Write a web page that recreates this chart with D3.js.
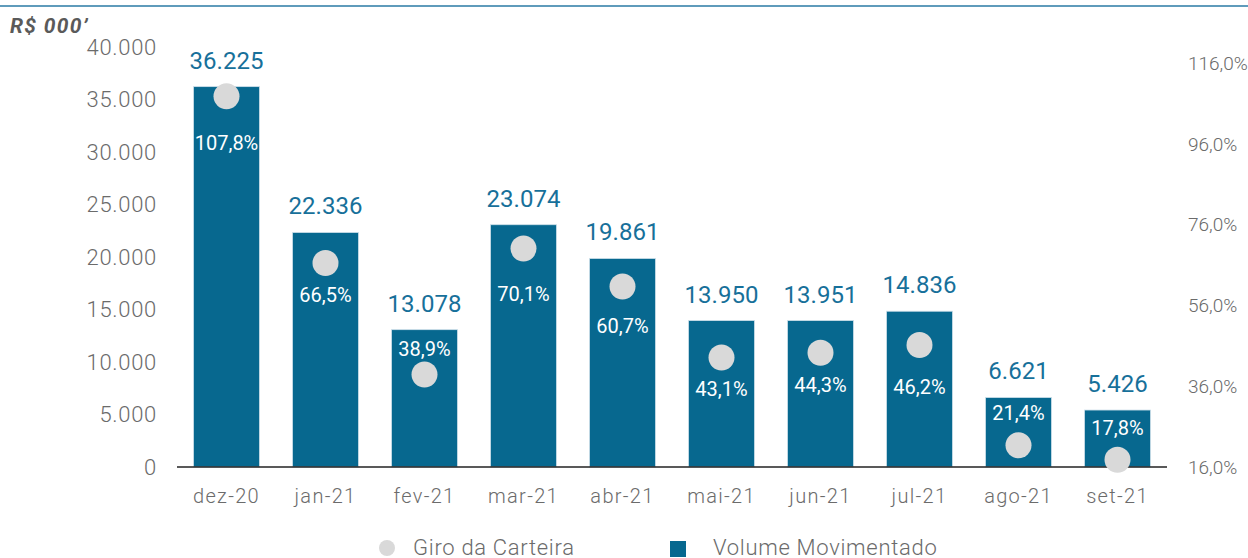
<!DOCTYPE html>
<html><head><meta charset="utf-8">
<script src="https://cdn.jsdelivr.net/npm/d3@7"></script>
<style>body{margin:0;background:#fff}svg{display:block}</style>
</head><body>
<svg id="c" width="1248" height="558"></svg>
<script>
const categories = ["dez-20","jan-21","fev-21","mar-21","abr-21","mai-21","jun-21","jul-21","ago-21","set-21"];
const volume = [36225,22336,13078,23074,19861,13950,13951,14836,6621,5426];
const giro = [107.8,66.5,38.9,70.1,60.7,43.1,44.3,46.2,21.4,17.8];
const leftTicks = [0,5000,10000,15000,20000,25000,30000,35000,40000];
const rightTicks = [16,36,56,76,96,116];
const seriesNames = ["Giro da Carteira","Volume Movimentado"];
// layout: vertical offset of percentage labels relative to the dot
const pctLabelDy = [47,32,-26,45,40,31,32,42,-32,-32];

const svg = d3.select("#c");
const barColor = "#07688f", dotColor = "#d9d9d9", textGray = "#6b6b6b", valColor = "#17709a";
const font = "Roboto, 'Open Sans', sans-serif";
const nf = v => d3.format(",")(v).replace(/,/g,".");

svg.append("line").attr("x1",0).attr("x2",1248).attr("y1",6).attr("y2",6)
  .attr("stroke","#2a7aa5").attr("stroke-width",1.5);
svg.append("text").attr("x",10).attr("y",33).text("R$ 000’")
  .attr("font-family",font).attr("font-size",21).attr("font-weight",700)
  .attr("font-style","italic").attr("letter-spacing",1.3).attr("fill","#5a5a5a");

const x = d3.scaleBand().domain(categories).range([177,1167]).paddingInner(0.333).paddingOuter(0.1665);
const y = d3.scaleLinear().domain([0,40000]).range([467,47]);
const y2 = d3.scaleLinear().domain([16,120]).range([467,47]);

// left axis
const la = svg.append("g").attr("transform","translate(163,0)")
  .call(d3.axisLeft(y).tickValues(leftTicks).tickSize(0).tickPadding(6).tickFormat(nf));
la.select(".domain").remove();
la.selectAll("text").attr("font-family",font).attr("font-size",22).attr("font-weight",300)
  .attr("letter-spacing",0.7).attr("fill",textGray);

// right axis
const ra = svg.append("g").attr("transform","translate(1182,0)")
  .call(d3.axisRight(y2).tickValues(rightTicks).tickSize(0).tickPadding(6).tickFormat(d=>d3.format(".1f")(d).replace(".",",")+"%"));
ra.select(".domain").remove();
ra.selectAll("text").attr("font-family",font).attr("font-size",19).attr("font-weight",300).attr("fill",textGray);

// bars
svg.append("g").selectAll("rect").data(categories).join("rect")
  .attr("x",d=>x(d)).attr("width",x.bandwidth())
  .attr("y",(d,i)=>y(volume[i])).attr("height",(d,i)=>y(0)-y(volume[i]))
  .attr("fill",barColor).attr("stroke","#cfe0ea").attr("stroke-width",0.8);

// baseline
svg.append("line").attr("x1",177).attr("x2",1167).attr("y1",y(0)).attr("y2",y(0))
  .attr("stroke","#222").attr("stroke-width",1.5);

// x labels
const xa = svg.append("g").attr("transform",`translate(0,${y(0)})`)
  .call(d3.axisBottom(x).tickSize(0).tickPadding(22));
xa.select(".domain").remove();
xa.selectAll("text").attr("font-family",font).attr("font-size",20).attr("font-weight",300)
  .attr("letter-spacing",1.3).attr("fill",textGray);

// value labels
svg.append("g").selectAll("text").data(categories).join("text")
  .attr("x",d=>x(d)+x.bandwidth()/2).attr("y",(d,i)=>y(volume[i])-18)
  .attr("text-anchor","middle").attr("font-family",font).attr("font-size",24)
  .attr("fill",valColor).text((d,i)=>nf(volume[i]));

// dots
svg.append("g").selectAll("circle").data(categories).join("circle")
  .attr("cx",d=>x(d)+x.bandwidth()/2).attr("cy",(d,i)=>y2(giro[i])).attr("r",13)
  .attr("fill",dotColor);

// percentage labels
svg.append("g").selectAll("text").data(categories).join("text")
  .attr("x",d=>x(d)+x.bandwidth()/2).attr("y",(d,i)=>y2(giro[i])+pctLabelDy[i])
  .attr("dy","0.35em").attr("text-anchor","middle").attr("font-family",font)
  .attr("font-size",20).attr("font-weight",400).attr("fill","#fff")
  .text((d,i)=>d3.format(".1f")(giro[i]).replace(".",",")+"%");

// legend
const lg = svg.append("g");
lg.append("circle").attr("cx",387).attr("cy",548).attr("r",8).attr("fill",dotColor);
lg.append("text").attr("x",413).attr("y",555).text(seriesNames[0])
  .attr("font-family",font).attr("font-size",22).attr("font-weight",300)
  .attr("letter-spacing",0.7).attr("fill",textGray);
lg.append("rect").attr("x",670).attr("y",541).attr("width",16).attr("height",16).attr("fill",barColor);
lg.append("text").attr("x",713).attr("y",555).text(seriesNames[1])
  .attr("font-family",font).attr("font-size",22).attr("font-weight",300)
  .attr("letter-spacing",0.7).attr("fill",textGray);
</script>
</body></html>
